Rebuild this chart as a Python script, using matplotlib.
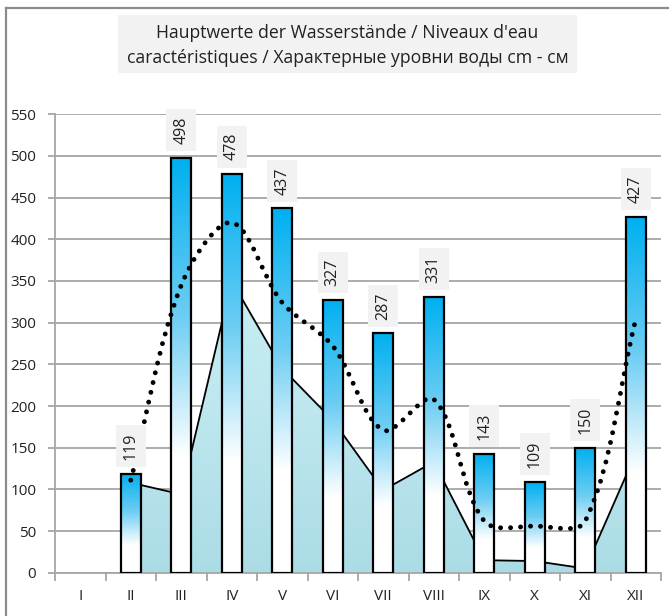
import numpy as np
import matplotlib
matplotlib.use('Agg')
import matplotlib.pyplot as plt
from matplotlib.colors import LinearSegmentedColormap
from matplotlib.patches import Rectangle, PathPatch
from matplotlib.path import Path
from matplotlib.lines import Line2D

plt.rcParams['font.family'] = ['Open Sans', 'DejaVu Sans']

months = ['I', 'II', 'III', 'IV', 'V', 'VI', 'VII', 'VIII', 'IX', 'X', 'XI', 'XII']
# highest levels (bars), I has no value
high = [np.nan, 119, 498, 478, 437, 327, 287, 331, 143, 109, 150, 427]
# lowest levels (area)
low = [np.nan, 108, 94, 350, 245, 183, 99, 133, 15, 14, 5, 143]
# mean levels (dotted smooth line)
mean = [np.nan, 111, 345, 420, 324, 272, 171, 208, 62, 56, 62, 304]

title = "Hauptwerte der Wasserstände / Niveaux d'eau\ncaractéristiques / Характерные уровни воды cm - см"

W, H = 669, 616
fig = plt.figure(figsize=(W / 100, H / 100), dpi=100)
ax = fig.add_axes([55 / W, 1 - 572.7 / H, (661 - 55) / W, (572.7 - 114.3) / H])
ax.set_xlim(-0.5, 11.5)
ax.set_ylim(0, 550)

x = np.arange(len(months))

# area of low water
xa = [i for i in x if not np.isnan(low[i])]
ya = [low[i] for i in xa]
area = ax.fill_between(xa, 0, ya, color='#b6e2eb', lw=0, zorder=2)
ag = np.linspace(0, 1, 256).reshape(-1, 1)
acmap = LinearSegmentedColormap.from_list('water', ['#abdce6', '#bce6ee', '#c8edf3'])
img = ax.imshow(ag, extent=[xa[0], xa[-1], 0, max(ya)], origin='lower', aspect='auto',
                cmap=acmap, zorder=2)
img.set_clip_path(area.get_paths()[0], transform=ax.transData)
ax.plot(xa, ya, color='black', lw=1.3, zorder=2.5)

# bars with gradient
bcmap = LinearSegmentedColormap.from_list('bar', [(0, 'white'), (0.28, 'white'),
                                                 (0.62, '#6ccdf3'), (1, '#00b0f0')])
bw = 0.4
grad = np.linspace(0, 1, 256).reshape(-1, 1)
xb = [i for i in x if not np.isnan(high[i])]
yb = [high[i] for i in xb]
bars = ax.bar(xb, yb, width=bw, facecolor='none', edgecolor='black', lw=1.6, zorder=4)
for i, v, b in zip(xb, yb, bars):
    im = ax.imshow(grad, extent=[i - bw / 2, i + bw / 2, 0, v], origin='lower',
                   aspect='auto', cmap=bcmap, zorder=3)
    im.set_clip_path(b)

# smoothed dotted line, bezier with control arms split by segment length (screen space)
sx = 50.5
sy = (572.7 - 114.3) / 550
P = np.array([(i, mean[i]) for i in x if not np.isnan(mean[i])], dtype=float)
Ps = P * [sx, sy]
n = len(P)
cin, cout = [], []
for k in range(n):
    a = Ps[max(k - 1, 0)]
    c = Ps[min(k + 1, n - 1)]
    T = c - a
    dp = np.linalg.norm(Ps[k] - a)
    dn = np.linalg.norm(c - Ps[k])
    s = dp + dn
    cin.append(Ps[k] - T * (dp / s) / 3)
    cout.append(Ps[k] + T * (dn / s) / 3)
verts = [Ps[0]]
codes = [Path.MOVETO]
for k in range(n - 1):
    verts += [cout[k], cin[k + 1], Ps[k + 1]]
    codes += [Path.CURVE4] * 3
verts = np.array(verts) / [sx, sy]
curve = PathPatch(Path(verts, codes), fill=False, edgecolor='black', lw=3.5,
                  linestyle=(0, (0.01, 2.05)), zorder=5)
curve.set_capstyle('round')
ax.add_patch(curve)

# value labels
for i, v in zip(xb, yb):
    ax.annotate(f'{v:.0f}', (i, v), xytext=(0, 10), textcoords='offset points',
                rotation=90, ha='center', va='bottom', fontsize=11.5, color='#222222',
                bbox=dict(boxstyle='square,pad=0.45', fc='#f2f2f2', ec='none'), zorder=6)

ax.set_yticks(np.arange(0, 551, 50))
ax.grid(axis='y', color='#a6a6a6', lw=1.3, zorder=0)
ax.set_axisbelow(True)
ax.set_xticks(np.arange(-0.5, 12, 1))
ax.set_xticklabels([])
ax.set_xticks(x, minor=True)
ax.set_xticklabels(months, minor=True)
ax.tick_params(axis='x', which='major', length=6, color='#a6a6a6', width=1.3)
ax.tick_params(axis='x', which='minor', length=0, pad=12, labelsize=11, labelcolor='#222222')
ax.tick_params(axis='y', length=5, color='#a6a6a6', width=1.3, pad=8.5, labelsize=11,
               labelcolor='#222222')
for s in ['top', 'right']:
    ax.spines[s].set_visible(False)
for s in ['left', 'bottom']:
    ax.spines[s].set_color('#a6a6a6')
    ax.spines[s].set_linewidth(1.3)

# chart border and title box
fig.add_artist(Line2D([6 / W, 6 / W], [0, 1 - 8 / H], color='#8c8c8c', lw=1.6))
fig.add_artist(Line2D([6 / W, 1], [1 - 8 / H, 1 - 8 / H], color='#8c8c8c', lw=1.6))
fig.add_artist(Rectangle((118 / W, 1 - 73 / H), (577 - 118) / W, (73 - 15) / H,
                         transform=fig.transFigure, fc='#f2f2f2', ec='none'))
fig.text(347.5 / W, 1 - 45.5 / H, title, ha='center', va='center', fontsize=12.7,
         linespacing=1.45, color='#222222')

fig.savefig('out.png', dpi=100)
